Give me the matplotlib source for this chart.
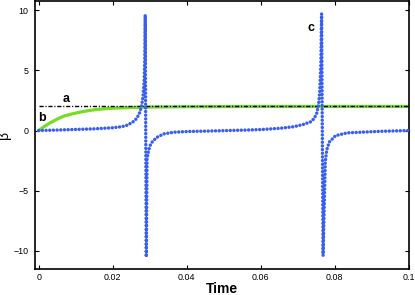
import matplotlib
matplotlib.use("Agg")
import matplotlib.pyplot as plt
import numpy as np

plt.rcParams["font.family"] = ["Liberation Sans", "DejaVu Sans"]

# blue dotted curve (beta vs time)
blue_t = [0.000, 0.005, 0.010, 0.015, 0.020, 0.0225, 0.0240, 0.0255, 0.0265,
          0.0272, 0.0278, 0.0282, 0.0285, 0.0287, 0.0288, 0.0291, 0.0293,
          0.0297, 0.0302, 0.0308, 0.0320, 0.0338, 0.0365, 0.0405, 0.045,
          0.050, 0.055, 0.060, 0.0654, 0.0690, 0.0715, 0.0735, 0.0745,
          0.0752, 0.0757, 0.0760, 0.0763, 0.0765, 0.0769, 0.0775, 0.0779,
          0.0786, 0.0803, 0.0835, 0.0871, 0.093, 0.100]
blue_b = [0.00, 0.04, 0.09, 0.14, 0.23, 0.32, 0.45, 0.72, 1.00,
          1.40, 2.00, 2.80, 4.00, 6.00, 9.60, -10.50, -2.40,
          -1.67, -1.20, -0.90, -0.56, -0.28, -0.14, -0.08, -0.05,
          -0.01, 0.03, 0.08, 0.19, 0.32, 0.50, 0.72, 1.00,
          1.45, 2.20, 3.20, 5.50, 9.70, -10.40, -2.60, -1.60,
          -0.95, -0.42, -0.19, -0.14, -0.06, 0.00]

# green curve
green_t = [0.0, 0.0015, 0.0031, 0.0050, 0.0067, 0.0090, 0.0112, 0.0135, 0.0157,
           0.0180, 0.0202, 0.0247, 0.030, 0.040, 0.060, 0.100]
green_b = [0.0, 0.34, 0.64, 0.95, 1.19, 1.38, 1.53, 1.66, 1.75,
           1.81, 1.86, 1.91, 1.95, 1.98, 2.0, 2.0]

# reference level
ref_t = [0.0, 0.1]
ref_b = [2.0, 2.0]

xticks = [0, 0.02, 0.04, 0.06, 0.08, 0.1]
xticklabels = ["0", "0.02", "0.04", "0.06", "0.08", "0.1"]
yticks = [-10, -5, 0, 5, 10]
yticklabels = ["\u221210", "\u22125", "0", "5", "10"]

fig = plt.figure(figsize=(4.15, 2.95), dpi=100)
ax = fig.add_axes([35 / 415, 26 / 295, 373.5 / 415, 268.5 / 295])

ax.plot(green_t, green_b, color="#77dd22", linewidth=2.3, solid_capstyle="round", zorder=2)
ax.plot(ref_t, ref_b, color="black", linewidth=1.0,
        dashes=(3.0, 1.3, 0.8, 1.3), zorder=3)
ax.plot(blue_t, blue_b, color="#3a5ff0", linewidth=2.5,
        linestyle=(0, (0.01, 1.05)), dash_capstyle="round", zorder=4)

ax.text(0.0074, 2.65, "a", fontsize=9, fontweight="bold", ha="center", va="center")
ax.text(0.0009, 1.05, "b", fontsize=9, fontweight="bold", ha="center", va="center")
ax.text(0.0735, 8.5, "c", fontsize=9, fontweight="bold", ha="center", va="center")

ax.set_xlim(-0.001, 0.1)
ax.set_ylim(-11.5, 10.8)
ax.set_xticks(xticks)
ax.set_xticklabels(xticklabels)
ax.set_yticks(yticks)
ax.set_yticklabels(yticklabels)
ax.tick_params(direction="in", length=3, width=0.8, top=True, right=True,
               labelsize=6.4)
ax.tick_params(axis="x", pad=3)
ax.tick_params(axis="y", pad=4.5)
for sp in ax.spines.values():
    sp.set_linewidth(1.2)

ax.set_xlabel("Time", fontsize=10, fontweight="bold", labelpad=0)
ax.set_ylabel("\u03b2", fontsize=10, labelpad=2)

fig.savefig("out.png", dpi=100)
